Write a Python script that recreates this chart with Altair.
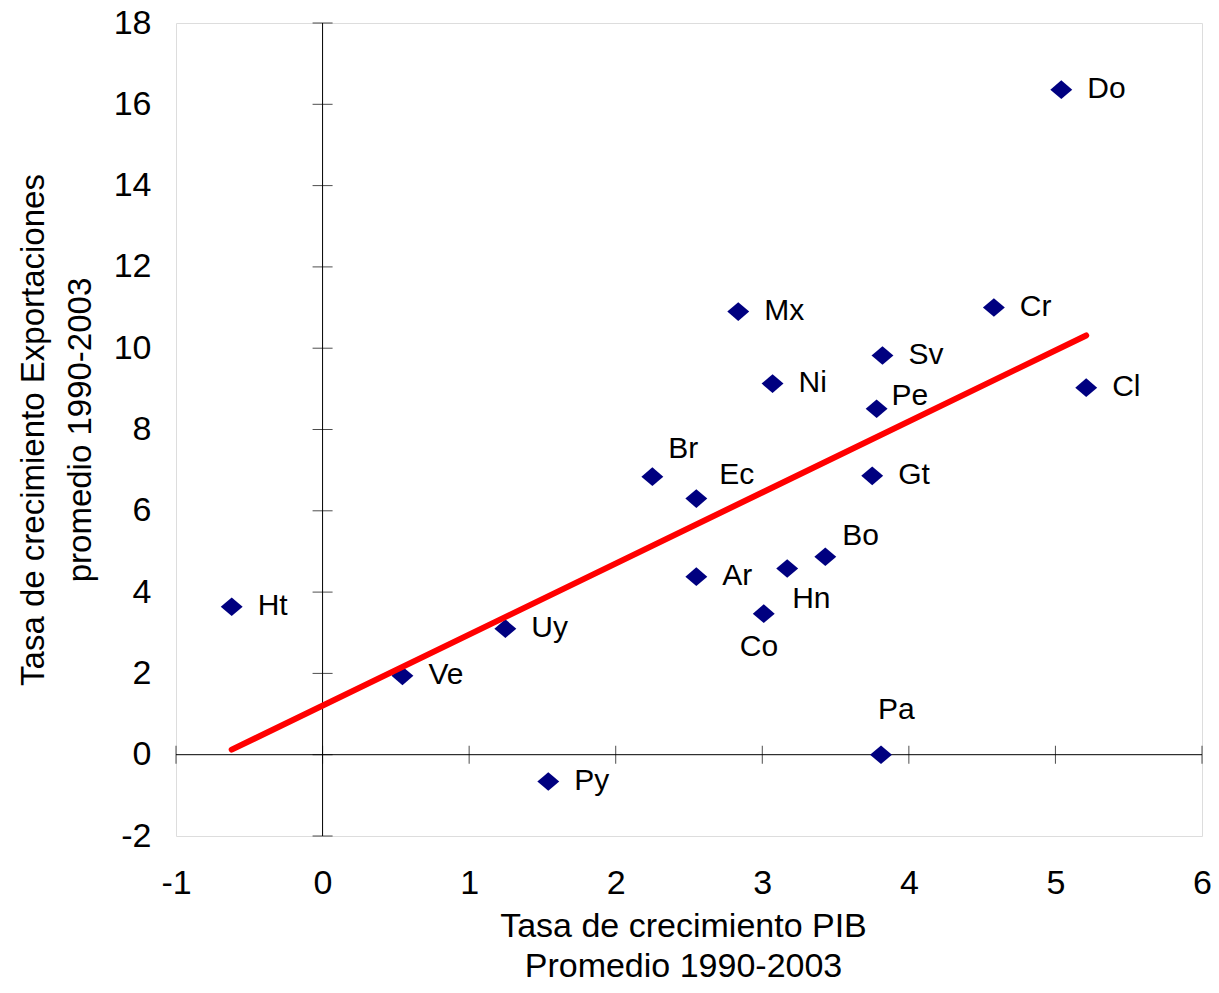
import altair as alt
import pandas as pd

# ---- data ----
paises = ["Ht", "Ve", "Uy", "Py", "Br", "Ec", "Ar", "Mx", "Ni", "Co",
          "Hn", "Bo", "Gt", "Pe", "Sv", "Pa", "Cr", "Do", "Cl"]
pib = [-0.62, 0.545, 1.247, 1.54, 2.25, 2.55, 2.55, 2.836, 3.07, 3.01,
       3.17, 3.43, 3.75, 3.78, 3.82, 3.81, 4.58, 5.04, 5.21]
exportaciones = [3.64, 1.94, 3.10, -0.66, 6.84, 6.30, 4.38, 10.9, 9.13, 3.47,
                 4.58, 4.87, 6.86, 8.51, 9.82, 0.0, 11.0, 16.36, 9.03]

x_ticks = [-1, 0, 1, 2, 3, 4, 5, 6]
y_ticks = [-2, 0, 2, 4, 6, 8, 10, 12, 14, 16, 18]

x_title = ["Tasa de crecimiento PIB", "Promedio 1990-2003"]
y_title = ["Tasa de crecimiento Exportaciones", "promedio 1990-2003"]

df = pd.DataFrame({"pais": paises, "pib": pib, "exp": exportaciones})

# label placement (pixel offsets, style only)
default_offset = (26, -1)
special_offsets = {
    "Br": (16, -28),
    "Ec": (23, -24),
    "Co": (-24, 33),
    "Hn": (5, 30),
    "Bo": (17, -21),
    "Pe": (15, -13),
    "Pa": (-3, -45),
}

FONT = "Liberation Sans"
W, H = 1026, 813

x_scale = alt.Scale(domain=[x_ticks[0], x_ticks[-1]], nice=False, zero=False)
y_scale = alt.Scale(domain=[y_ticks[0], y_ticks[-1]], nice=False, zero=False)

x_axis = alt.Axis(
    values=x_ticks, ticks=False, domain=False, grid=False,
    labelExpr="'' + datum.value",
    labelFontSize=34, labelFont=FONT, labelColor="black", labelPadding=30,
    labelFlush=False, labelOverlap=False,
    title=x_title, titleFont=FONT, titleFontSize=34, titleFontWeight="normal",
    titleColor="black", titleLineHeight=40, titleX=W / 2 - 6, titleY=90,
    titleBaseline="middle", titleAlign="center",
)
y_axis = alt.Axis(
    values=y_ticks, ticks=False, domain=False, grid=False,
    labelExpr="'' + datum.value",
    labelFontSize=34, labelFont=FONT, labelColor="black", labelPadding=25,
    labelFlush=False, labelOverlap=False,
    title=y_title, titleFont=FONT, titleFontSize=33, titleFontWeight="normal",
    titleColor="black", titleLineHeight=47, titleX=-143, titleY=H / 2,
    titleBaseline="middle", titleAlign="center", titleAngle=270,
)

# crossing axes at 0
vline_df = pd.DataFrame({"x": [0], "y1": [y_ticks[0]], "y2": [y_ticks[-1]]})
hline_df = pd.DataFrame({"y": [0], "x1": [x_ticks[0]], "x2": [x_ticks[-1]]})
ytick_df = pd.DataFrame({"x": [0] * len(y_ticks), "y": y_ticks})
xtick_df = pd.DataFrame({"y": [0] * len(x_ticks), "x": x_ticks})


def X(field):
    return alt.X(field, scale=x_scale, axis=x_axis)


def Y(field):
    return alt.Y(field, scale=y_scale, axis=y_axis)


vline = alt.Chart(vline_df).mark_rule(color="black", strokeWidth=1).encode(
    x=X("x:Q"), y=Y("y1:Q"), y2="y2:Q",
)
hline = alt.Chart(hline_df).mark_rule(color="black", strokeWidth=1).encode(
    y=Y("y:Q"), x=X("x1:Q"), x2="x2:Q",
)
yticks = alt.Chart(ytick_df).mark_tick(orient="horizontal", size=20, thickness=1, color="black").encode(
    x=X("x:Q"), y=Y("y:Q"),
)
xticks = alt.Chart(xtick_df).mark_tick(orient="vertical", size=18, thickness=1, color="black").encode(
    x=X("x:Q"), y=Y("y:Q"),
)

points = alt.Chart(df).mark_point(
    shape="M-1,0L0,-0.85L1,0L0,0.85Z", filled=True, size=480,
    color="#000080", opacity=1, strokeWidth=0,
).encode(x=X("pib:Q"), y=Y("exp:Q"))

trend = alt.Chart(df).transform_regression("pib", "exp").mark_line(
    color="#FF0000", strokeWidth=6, strokeCap="round"
).encode(x=X("pib:Q"), y=Y("exp:Q"))

label_layers = []
default_names = [p for p in paises if p not in special_offsets]
groups = [(default_names, default_offset)] + [([k], v) for k, v in special_offsets.items()]
for names, (dx, dy) in groups:
    label_layers.append(
        alt.Chart(df)
        .transform_filter(alt.FieldOneOfPredicate(field="pais", oneOf=names))
        .mark_text(align="left", baseline="middle", dx=dx, dy=dy,
                   font=FONT, fontSize=30, color="black")
        .encode(x=X("pib:Q"), y=Y("exp:Q"), text="pais:N")
    )

chart = alt.layer(vline, hline, yticks, xticks, points, trend, *label_layers).properties(
    width=W, height=H,
    autosize=alt.AutoSizeParams(type="none"),
    padding={"left": 168, "top": 15, "right": 9, "bottom": 144},
    background="white",
).configure_view(stroke="#c8c8c8", strokeWidth=1).configure(font=FONT)

chart.save("out.html", embed_options={"renderer": "svg", "actions": False})
